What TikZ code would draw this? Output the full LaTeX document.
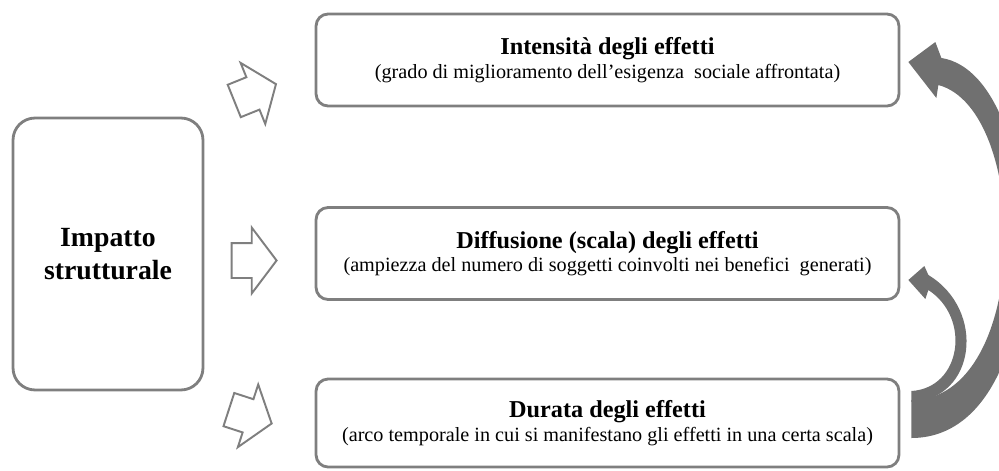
\documentclass[tikz,border=0pt]{standalone}
\usepackage{fontspec}
\setmainfont{Liberation Serif}
\usetikzlibrary{shapes.arrows}
\definecolor{bordo}{RGB}{127,127,127}
\definecolor{freccia}{RGB}{112,112,112}

\begin{document}
\begin{tikzpicture}[x=0.02cm,y=-0.02cm]
\tikzset{box/.style={draw=bordo, line width=1.6pt, rounded corners=0.24cm, minimum width=11.66cm, minimum height=1.84cm, align=center, font=\fontsize{11.5}{13.5}\selectfont}}
\tikzset{blocco/.style={single arrow, draw=bordo, line width=1.1pt, fill=white, minimum height=0.9cm, inner xsep=0pt, inner ysep=0.33cm, single arrow head extend=0.31cm, single arrow tip angle=106}}
\useasboundingbox (0,0) rectangle (999,470);
\clip (0,0) rectangle (999,470);
\node[draw=bordo, line width=1.6pt, rounded corners=0.44cm, minimum width=3.8cm, minimum height=5.44cm, align=center, font=\fontsize{15.8}{19}\selectfont\bfseries] (imp) at (108,254) {Impatto\\strutturale};
\node[box] (int) at (607.5,60) {{\fontsize{13.8}{13.5}\selectfont\bfseries Intensità degli effetti}\\(grado di miglioramento dell’esigenza\ \ sociale affrontata)};
\node[box] (dif) at (607.5,253.5) {{\fontsize{13.8}{13.5}\selectfont\bfseries Diffusione (scala) degli effetti}\\(ampiezza del numero di soggetti coinvolti nei benefici\ \ generati)};
\node[box, minimum height=1.76cm] (dur) at (607.5,423) {{\fontsize{13.8}{13.5}\selectfont\bfseries Durata degli effetti}\\(arco temporale in cui si manifestano gli effetti in una certa scala)};
\node[blocco, rotate=22] (a1) at (249,95) {};
\node[blocco] (a2) at (247.5,260.5) {};
\node[blocco, rotate=-18] (a3) at (244,414.5) {};
% frecce curve
\fill[freccia] ([shift={(11,15)}]dur.east)
  .. controls +(150,0) and +(110,17) .. ([shift={(41,-2)}]int.east)
  -- ++(-6,-16) -- ([shift={(8,2)}]int.east) -- ([shift={(36,38)}]int.east)
  -- ([shift={(38,25)}]int.east)
  .. controls +(93,25) and +(120,0) .. ([shift={(11,-23)}]dur.east) -- cycle;
\fill[freccia] ([shift={(11,-21)}]dur.east)
  .. controls +(65,-3) and +(58,35) .. ([shift={(28,21.5)}]dif.east)
  -- ([shift={(24,12.5)}]dif.east) -- ([shift={(8,26.5)}]dif.east)
  -- ([shift={(25,45.5)}]dif.east) -- ([shift={(28,36.5)}]dif.east)
  .. controls +(43,28) and +(50,-3) .. ([shift={(11,-32)}]dur.east) -- cycle;
\end{tikzpicture}
\end{document}
